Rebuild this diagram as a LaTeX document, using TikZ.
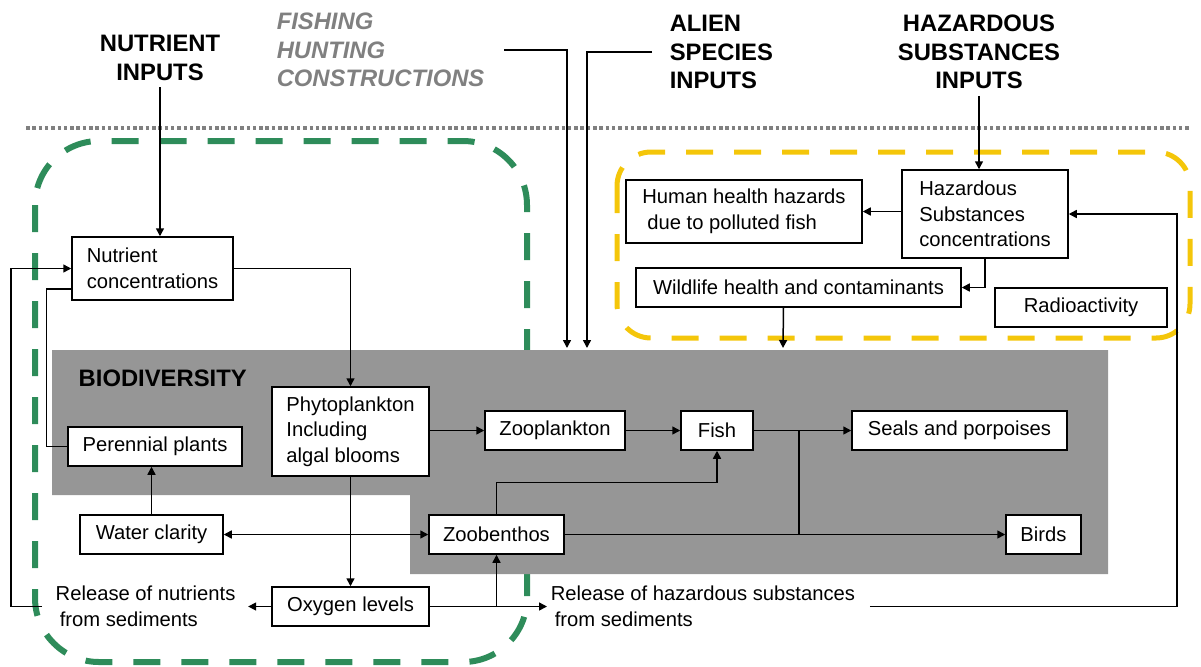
\documentclass[tikz,border=0pt]{standalone}
\usepackage{fontspec}
\setmainfont{Liberation Sans}
\usetikzlibrary{arrows.meta}
\definecolor{biogray}{RGB}{150,150,150}
\definecolor{nutgreen}{RGB}{46,140,90}
\definecolor{hazyellow}{RGB}{244,198,10}
\definecolor{pressgray}{RGB}{128,128,128}
\newcommand{\boxfont}{\fontsize{10.1}{12.8}\selectfont}
\newcommand{\headfont}{\fontsize{11.9}{14.3}\selectfont\bfseries}
\begin{document}
\begin{tikzpicture}[x=0.5pt, y=-0.5pt, line width=0.75pt,
    >={Triangle[length=4pt,width=4pt]},
    box/.style={draw, fill=white, inner sep=0pt, align=left, font=\boxfont},
    lbl/.style={inner sep=0pt, align=left, anchor=west, font=\boxfont},
    head/.style={inner sep=0pt, font=\headfont}]
    \useasboundingbox (0,0) rectangle (1201,666);
    \draw[nutgreen, line width=3pt, dash pattern=on 13.5pt off 10.5pt, rounded corners=32pt] (35,141) rectangle (527,662);
    \draw[hazyellow, line width=2.5pt, dash pattern=on 13.5pt off 10.5pt, rounded corners=17pt] (617,152) rectangle (1190,338);
    \draw[pressgray, line width=1.75pt, dash pattern=on 1.75pt off 1.4pt] (26,128) -- (1190,128);
    \fill[biogray] (52,350) -- (1108,350) -- (1108,574) -- (410,574) -- (410,495) -- (52,495) -- cycle;

    \node[head, align=center] (nutin) at (160,58) {NUTRIENT\\INPUTS};
    \node[head, align=left, anchor=west, text=pressgray, font=\headfont\itshape] (press) at (276,50) {FISHING\\HUNTING\\CONSTRUCTIONS};
    \node[head, align=left, anchor=west] (alien) at (669,52) {ALIEN\\SPECIES\\INPUTS};
    \node[head, align=center] (hazin) at (979,52) {HAZARDOUS\\SUBSTANCES\\INPUTS};
    \node[head, anchor=west] (biodiv) at (78,378) {BIODIVERSITY};

    \node[box, minimum width=80.5pt, minimum height=31.5pt] (nutconc) at (152.5,268.5) {Nutrient\\concentrations};
    \node[box, minimum width=78.5pt, minimum height=44.5pt] (phyto) at (350.5,431.5) {Phytoplankton\\Including\\algal blooms};
    \node[box, minimum width=87pt, minimum height=19.5pt] (perennial) at (155,446.5) {Perennial plants};
    \node[box, minimum width=70pt, minimum height=19.5pt] (zoopl) at (555,430.5) {Zooplankton};
    \node[box, minimum width=36pt, minimum height=19.5pt] (fish) at (717,430.5) {Fish};
    \node[box, minimum width=107.5pt, minimum height=19.5pt] (seals) at (959.5,430.5) {Seals and porpoises};
    \node[box, minimum width=71.5pt, minimum height=19.5pt] (water) at (151.5,534.5) {Water clarity};
    \node[box, minimum width=67.5pt, minimum height=19.5pt] (zoob) at (496.5,534.5) {Zoobenthos};
    \node[box, minimum width=37.5pt, minimum height=19.5pt] (birds) at (1043.5,534.5) {Birds};
    \node[box, minimum width=78.5pt, minimum height=19.5pt] (oxygen) at (350.5,606.5) {Oxygen levels};
    \node[box, minimum width=118pt, minimum height=31.5pt] (human) at (744,211.5) {Human health hazards\\\hspace*{0.25em}due to polluted fish};
    \node[box, minimum width=83pt, minimum height=44pt] (hazconc) at (985,214) {Hazardous\\Substances\\concentrations};
    \node[box, minimum width=162.5pt, minimum height=19.5pt] (wildlife) at (798.5,287.5) {Wildlife health and contaminants};
    \node[box, minimum width=86pt, minimum height=19.5pt] (radio) at (1081,307.5) {Radioactivity};
    \node[lbl] (relnut) at (55,606.5) {Release of nutrients\\\hspace*{0.2em}from sediments};
    \node[lbl] (relhaz) at (550,606.5) {Release of hazardous substances\\\hspace*{0.2em}from sediments};

    \coordinate (fishend) at (567,348);
    \coordinate (alienend) at (587,348);
    \coordinate (wildend) at (783,348);
    \coordinate (hazturn) at (1177,214);
    \coordinate (fishsplit) at (799,430.5);

    \draw[->, shorten <=3pt] (nutin.south) -- (nutin.south |- nutconc.north);
    \draw[->, shorten <=3pt] (hazin.south) -- (hazin.south |- hazconc.north);
    \draw[->] ([xshift=9.5pt]press.east) -| (fishend);
    \draw[->] ([xshift=-8.5pt]alien.west) -| (alienend);
    \draw[->] ([xshift=-7.5pt]wildlife.south) -- (wildend);
    \draw[->] (hazconc.west |- human.east) -- (human.east);
    \draw[->] (hazconc.south) |- (wildlife.east);
    \draw[->] ([xshift=7pt]relhaz.east) -| (hazturn) -- (hazconc.east);
    \draw[->] (nutconc.east) -| (phyto.north);
    \draw (perennial.west) -- ++(-21,0) |- ([yshift=-10.25pt]nutconc.west);
    \draw[->] ([xshift=-6.5pt]relnut.west) -- ++(-31,0) |- (nutconc.west);
    \draw[->] (oxygen.west) -- ([xshift=6pt]relnut.east);
    \draw[->] (oxygen.east) -| (zoob.south);
    \draw[->] (oxygen.east) -- ([xshift=-1.5pt]relhaz.west);
    \draw[->] (water.north) -- (water.north |- perennial.south);
    \draw[<->] (water) -- (zoob);
    \draw[->] (phyto) -- (oxygen);
    \draw[->] (phyto.east |- zoopl.west) -- (zoopl.west);
    \draw[->] (zoopl) -- (fish);
    \draw[->] (fish) -- (seals);
    \draw (fishsplit) -- (fishsplit |- birds.west);
    \draw[->] (zoob) -- (birds);
    \draw[->] (zoob.north) -- ++(0,-32) -| (fish.south);
\end{tikzpicture}
\end{document}
